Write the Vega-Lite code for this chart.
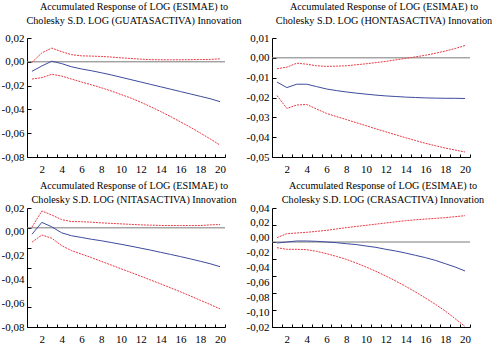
{
  "$schema": "https://vega.github.io/schema/vega-lite/v6.json",
  "padding": {"left": 1, "top": 1, "right": 2, "bottom": 2},
  "bounds": "flush",
  "columns": 2,
  "spacing": {"row": 51, "column": 47},
  "datasets": {
    "p1": [
      {"h": 1, "r": -0.008, "lo": -0.0145, "up": -0.0005},
      {"h": 2, "r": -0.0035, "lo": -0.0133, "up": 0.0075},
      {"h": 3, "r": 0.0005, "lo": -0.0105, "up": 0.0115},
      {"h": 4, "r": -0.0015, "lo": -0.012, "up": 0.0085},
      {"h": 5, "r": -0.0042, "lo": -0.0145, "up": 0.006},
      {"h": 6, "r": -0.006, "lo": -0.017, "up": 0.005},
      {"h": 7, "r": -0.0075, "lo": -0.0193, "up": 0.0048},
      {"h": 8, "r": -0.0092, "lo": -0.0218, "up": 0.0045},
      {"h": 9, "r": -0.011, "lo": -0.0245, "up": 0.004},
      {"h": 10, "r": -0.013, "lo": -0.0275, "up": 0.0033},
      {"h": 11, "r": -0.015, "lo": -0.0305, "up": 0.0028},
      {"h": 12, "r": -0.017, "lo": -0.034, "up": 0.0022},
      {"h": 13, "r": -0.019, "lo": -0.0378, "up": 0.0018},
      {"h": 14, "r": -0.021, "lo": -0.0418, "up": 0.0017},
      {"h": 15, "r": -0.023, "lo": -0.046, "up": 0.0017},
      {"h": 16, "r": -0.025, "lo": -0.0505, "up": 0.0017},
      {"h": 17, "r": -0.027, "lo": -0.055, "up": 0.0018},
      {"h": 18, "r": -0.029, "lo": -0.0598, "up": 0.0019},
      {"h": 19, "r": -0.031, "lo": -0.0648, "up": 0.002},
      {"h": 20, "r": -0.0335, "lo": -0.07, "up": 0.0025}
    ],
    "p2": [
      {"h": 1, "r": -0.0122, "lo": -0.019, "up": -0.0055},
      {"h": 2, "r": -0.015, "lo": -0.0255, "up": -0.0047},
      {"h": 3, "r": -0.0133, "lo": -0.0238, "up": -0.0027},
      {"h": 4, "r": -0.0133, "lo": -0.0235, "up": -0.0032},
      {"h": 5, "r": -0.0145, "lo": -0.0258, "up": -0.004},
      {"h": 6, "r": -0.0157, "lo": -0.028, "up": -0.0043},
      {"h": 7, "r": -0.0165, "lo": -0.0296, "up": -0.0042},
      {"h": 8, "r": -0.0172, "lo": -0.0311, "up": -0.004},
      {"h": 9, "r": -0.0178, "lo": -0.0327, "up": -0.0035},
      {"h": 10, "r": -0.0183, "lo": -0.0342, "up": -0.003},
      {"h": 11, "r": -0.0188, "lo": -0.0358, "up": -0.0024},
      {"h": 12, "r": -0.0192, "lo": -0.0373, "up": -0.0018},
      {"h": 13, "r": -0.0195, "lo": -0.0388, "up": -0.001},
      {"h": 14, "r": -0.0198, "lo": -0.0403, "up": -0.0003},
      {"h": 15, "r": -0.02, "lo": -0.0417, "up": 0.0005},
      {"h": 16, "r": -0.0202, "lo": -0.0431, "up": 0.0013},
      {"h": 17, "r": -0.0203, "lo": -0.0443, "up": 0.0023},
      {"h": 18, "r": -0.0204, "lo": -0.0455, "up": 0.0034},
      {"h": 19, "r": -0.0204, "lo": -0.0465, "up": 0.0047},
      {"h": 20, "r": -0.0205, "lo": -0.0475, "up": 0.0062}
    ],
    "p3": [
      {"h": 1, "r": -0.0065, "lo": -0.0145, "up": 0.0007},
      {"h": 2, "r": 0.0055, "lo": -0.0072, "up": 0.017},
      {"h": 3, "r": 0.001, "lo": -0.0105, "up": 0.013},
      {"h": 4, "r": -0.005, "lo": -0.018, "up": 0.0083},
      {"h": 5, "r": -0.008, "lo": -0.023, "up": 0.0063},
      {"h": 6, "r": -0.0097, "lo": -0.0265, "up": 0.0062},
      {"h": 7, "r": -0.0115, "lo": -0.03, "up": 0.0057},
      {"h": 8, "r": -0.013, "lo": -0.0338, "up": 0.005},
      {"h": 9, "r": -0.0148, "lo": -0.0375, "up": 0.0045},
      {"h": 10, "r": -0.0166, "lo": -0.0413, "up": 0.004},
      {"h": 11, "r": -0.0185, "lo": -0.045, "up": 0.0035},
      {"h": 12, "r": -0.0205, "lo": -0.0488, "up": 0.003},
      {"h": 13, "r": -0.0225, "lo": -0.0527, "up": 0.0027},
      {"h": 14, "r": -0.0247, "lo": -0.0565, "up": 0.0024},
      {"h": 15, "r": -0.0268, "lo": -0.0605, "up": 0.0023},
      {"h": 16, "r": -0.029, "lo": -0.0645, "up": 0.0023},
      {"h": 17, "r": -0.0313, "lo": -0.0687, "up": 0.0023},
      {"h": 18, "r": -0.0337, "lo": -0.073, "up": 0.0023},
      {"h": 19, "r": -0.0362, "lo": -0.0773, "up": 0.003},
      {"h": 20, "r": -0.0392, "lo": -0.0817, "up": 0.0033}
    ],
    "p4": [
      {"h": 1, "r": -0.0012, "lo": -0.0067, "up": 0.0051},
      {"h": 2, "r": 0.0, "lo": -0.0086, "up": 0.0098},
      {"h": 3, "r": 0.0012, "lo": -0.0086, "up": 0.0106},
      {"h": 4, "r": 0.0012, "lo": -0.009, "up": 0.0114},
      {"h": 5, "r": 0.0008, "lo": -0.011, "up": 0.0125},
      {"h": 6, "r": 0.0, "lo": -0.0137, "up": 0.0137},
      {"h": 7, "r": -0.0008, "lo": -0.0169, "up": 0.0153},
      {"h": 8, "r": -0.002, "lo": -0.0204, "up": 0.0169},
      {"h": 9, "r": -0.003, "lo": -0.0247, "up": 0.0183},
      {"h": 10, "r": -0.0047, "lo": -0.0294, "up": 0.0196},
      {"h": 11, "r": -0.0063, "lo": -0.0345, "up": 0.021},
      {"h": 12, "r": -0.0086, "lo": -0.04, "up": 0.0224},
      {"h": 13, "r": -0.0106, "lo": -0.0459, "up": 0.0238},
      {"h": 14, "r": -0.013, "lo": -0.0522, "up": 0.0251},
      {"h": 15, "r": -0.0157, "lo": -0.0588, "up": 0.0261},
      {"h": 16, "r": -0.0184, "lo": -0.0659, "up": 0.027},
      {"h": 17, "r": -0.0216, "lo": -0.0733, "up": 0.0278},
      {"h": 18, "r": -0.0255, "lo": -0.0812, "up": 0.0286},
      {"h": 19, "r": -0.0294, "lo": -0.0902, "up": 0.0298},
      {"h": 20, "r": -0.0341, "lo": -0.0995, "up": 0.031}
    ]
  },
  "concat": [
    {
      "width": 198, "height": 119,
      "data": {"name": "p1"},
      "title": {"text": ["Accumulated Response of LOG (ESIMAE) to", "Cholesky S.D. LOG (GUATASACTIVA) Innovation"], "dx": 8},
      "resolve": {"axis": {"y": "independent"}},
      "layer": [
        {"data": {"values": [{}]}, "mark": {"type": "rule", "color": "#7a7a7a", "strokeWidth": 1},
         "encoding": {"y": {"datum": 0, "type": "quantitative", "scale": {"domain": [-0.08, 0.02], "nice": false, "zero": false},
           "axis": {"title": null, "orient": "left", "values": [-0.08, -0.06, -0.04, -0.02, 0, 0.02], "labels": false}}}},
        {"mark": {"type": "line", "color": "#e83a44", "strokeDash": [2, 1]},
         "encoding": {"x": {"field": "h", "type": "ordinal", "bandPosition": 0.5, "scale": {"type": "band", "paddingInner": 0, "paddingOuter": 0}, "axis": {"title": null, "labelExpr": "datum.value % 2 == 0 ? datum.label : ''"}},
           "y": {"field": "lo", "type": "quantitative", "axis": {"title": null, "orient": "left", "domain": false, "ticks": false, "tickSize": 0, "labelPadding": 3, "labelOverlap": false, "values": [0.02, 0, -0.02, -0.04, -0.06, -0.08], "labelExpr": "['0,02','0,00','-0,02','-0,04','-0,06','-0,08'][round((0.02 - datum.value) / 0.02)]"}}}},
        {"mark": {"type": "line", "color": "#e83a44", "strokeDash": [2, 1]},
         "encoding": {"x": {"field": "h", "type": "ordinal", "bandPosition": 0.5}, "y": {"field": "up", "type": "quantitative", "axis": null}}},
        {"mark": {"type": "line", "color": "#3d4b9c"},
         "encoding": {"x": {"field": "h", "type": "ordinal", "bandPosition": 0.5}, "y": {"field": "r", "type": "quantitative", "axis": null}}}
      ]
    },
    {
      "width": 198, "height": 119,
      "data": {"name": "p2"},
      "title": {"text": ["Accumulated Response of LOG (ESIMAE) to", "Cholesky S.D. LOG (HONTASACTIVA) Innovation"], "dx": 13},
      "resolve": {"axis": {"y": "independent"}},
      "layer": [
        {"data": {"values": [{}]}, "mark": {"type": "rule", "color": "#7a7a7a", "strokeWidth": 1},
         "encoding": {"y": {"datum": 0, "type": "quantitative", "scale": {"domain": [-0.05, 0.01], "nice": false, "zero": false},
           "axis": {"title": null, "orient": "left", "values": [-0.05, -0.04, -0.03, -0.02, -0.01, 0, 0.01], "labels": false}}}},
        {"mark": {"type": "line", "color": "#e83a44", "strokeDash": [2, 1]},
         "encoding": {"x": {"field": "h", "type": "ordinal", "bandPosition": 0.5, "scale": {"type": "band", "paddingInner": 0, "paddingOuter": 0}, "axis": {"title": null, "labelExpr": "datum.value % 2 == 0 ? datum.label : ''"}},
           "y": {"field": "lo", "type": "quantitative", "axis": {"title": null, "orient": "left", "domain": false, "ticks": false, "tickSize": 0, "labelPadding": 3, "labelOverlap": false, "values": [0.01, 0, -0.01, -0.02, -0.03, -0.04, -0.05], "labelExpr": "['0,01','0,00','-0,01','-0,02','-0,03','-0,04','-0,05'][round((0.01 - datum.value) / 0.01)]"}}}},
        {"mark": {"type": "line", "color": "#e83a44", "strokeDash": [2, 1]},
         "encoding": {"x": {"field": "h", "type": "ordinal", "bandPosition": 0.5}, "y": {"field": "up", "type": "quantitative", "axis": null}}},
        {"mark": {"type": "line", "color": "#3d4b9c"},
         "encoding": {"x": {"field": "h", "type": "ordinal", "bandPosition": 0.5}, "y": {"field": "r", "type": "quantitative", "axis": null}}}
      ]
    },
    {
      "width": 198, "height": 119,
      "data": {"name": "p3"},
      "title": {"text": ["Accumulated Response of LOG (ESIMAE) to", "Cholesky S.D. LOG (NITASACTIVA) Innovation"], "dx": 8, "dy": 9},
      "resolve": {"axis": {"y": "independent"}},
      "layer": [
        {"data": {"values": [{}]}, "mark": {"type": "rule", "color": "#7a7a7a", "strokeWidth": 1},
         "encoding": {"y": {"datum": 0, "type": "quantitative", "scale": {"domain": [-0.1, 0.02], "nice": false, "zero": false},
           "axis": {"title": null, "orient": "left", "values": [-0.1, -0.08, -0.06, -0.04, -0.02, 0, 0.02], "labels": false}}}},
        {"mark": {"type": "line", "color": "#e83a44", "strokeDash": [2, 1]},
         "encoding": {"x": {"field": "h", "type": "ordinal", "bandPosition": 0.5, "scale": {"type": "band", "paddingInner": 0, "paddingOuter": 0}, "axis": {"title": null, "labelExpr": "datum.value % 2 == 0 ? datum.label : ''"}},
           "y": {"field": "lo", "type": "quantitative", "axis": {"title": null, "orient": "left", "domain": false, "ticks": false, "tickSize": 0, "labelPadding": 3, "labelOverlap": false, "values": [0.02, -0.004, -0.028, -0.052, -0.076, -0.1], "labelExpr": "['0,02','0,00','-0,02','-0,04','-0,06','-0,08'][round((0.02 - datum.value) / 0.024)]"}}}},
        {"mark": {"type": "line", "color": "#e83a44", "strokeDash": [2, 1]},
         "encoding": {"x": {"field": "h", "type": "ordinal", "bandPosition": 0.5}, "y": {"field": "up", "type": "quantitative", "axis": null}}},
        {"mark": {"type": "line", "color": "#3d4b9c"},
         "encoding": {"x": {"field": "h", "type": "ordinal", "bandPosition": 0.5}, "y": {"field": "r", "type": "quantitative", "axis": null}}}
      ]
    },
    {
      "width": 198, "height": 119,
      "data": {"name": "p4"},
      "title": {"text": ["Accumulated Response of LOG (ESIMAE) to", "Cholesky S.D. LOG (CRASACTIVA) Innovation"], "dx": 12, "dy": 9},
      "resolve": {"axis": {"y": "independent"}},
      "layer": [
        {"data": {"values": [{}]}, "mark": {"type": "rule", "color": "#7a7a7a", "strokeWidth": 1},
         "encoding": {"y": {"datum": 0, "type": "quantitative", "scale": {"domain": [-0.1, 0.04], "nice": false, "zero": false},
           "axis": {"title": null, "orient": "left", "values": [-0.1, -0.08, -0.06, -0.04, -0.02, 0, 0.02, 0.04], "labels": false}}}},
        {"mark": {"type": "line", "color": "#e83a44", "strokeDash": [2, 1]},
         "encoding": {"x": {"field": "h", "type": "ordinal", "bandPosition": 0.5, "scale": {"type": "band", "paddingInner": 0, "paddingOuter": 0}, "axis": {"title": null, "labelExpr": "datum.value % 2 == 0 ? datum.label : ''"}},
           "y": {"field": "lo", "type": "quantitative", "axis": {"title": null, "orient": "left", "domain": false, "ticks": false, "tickSize": 0, "labelPadding": 3, "labelOverlap": false, "values": [0.04, 0.0225, 0.005, -0.0125, -0.03, -0.0475, -0.065, -0.0825, -0.1], "labelExpr": "['0,04','0,02','0,00','-0,02','-0,04','-0,06','-0,08','-0,10','-0,02'][round((0.04 - datum.value) / 0.0175)]"}}}},
        {"mark": {"type": "line", "color": "#e83a44", "strokeDash": [2, 1]},
         "encoding": {"x": {"field": "h", "type": "ordinal", "bandPosition": 0.5}, "y": {"field": "up", "type": "quantitative", "axis": null}}},
        {"mark": {"type": "line", "color": "#3d4b9c"},
         "encoding": {"x": {"field": "h", "type": "ordinal", "bandPosition": 0.5}, "y": {"field": "r", "type": "quantitative", "axis": null}}}
      ]
    }
  ],
  "config": {
    "font": "Liberation Serif",
    "view": {"stroke": null},
    "line": {"strokeWidth": 1},
    "axis": {"grid": false, "domainColor": "#000000", "tickColor": "#000000", "labelColor": "#000000", "labelFont": "Liberation Serif", "labelFontSize": 11, "domainWidth": 1, "tickWidth": 1, "labelOverlap": false},
    "axisX": {"tickSize": -3, "labelPadding": 9, "labelAngle": 0, "tickBand": "extent", "labelFlush": false},
    "axisY": {"tickSize": -4, "labelPadding": 7, "labelFlush": false},
    "title": {"font": "Liberation Serif", "fontSize": 10.2, "fontWeight": "normal", "lineHeight": 14, "offset": 6, "anchor": "middle", "color": "#000000"}
  }
}
